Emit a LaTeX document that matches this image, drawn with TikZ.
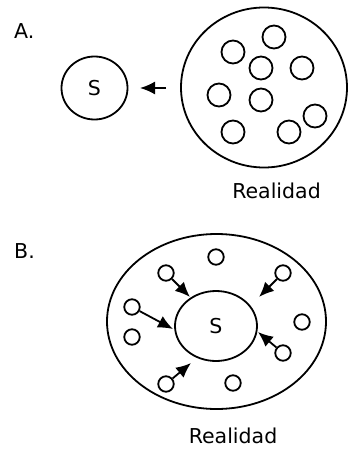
\documentclass[tikz,border=0pt]{standalone}
\usepackage{fontspec}
\setmainfont{DejaVu Sans}
\usepackage{tikz}
\usetikzlibrary{arrows.meta}
\usetikzlibrary{shapes.geometric}
\usetikzlibrary{positioning}

\begin{document}
\begin{tikzpicture}[
            x = 1pt, y = -1pt, % pixel-like units, y downwards
            > = {Latex[length=15pt, width=13pt]}, % arrow head style
            line width = 1.8pt, % line style
            font = \fontsize{20.5}{24}\selectfont
        ]

        \tikzstyle{blob}=[
            draw,
            ellipse,
            inner sep = 0pt
        ]
        \tikzstyle{dot}=[draw, circle, inner sep = 0pt, minimum size = 23pt]
        \tikzstyle{tinydot}=[draw, circle, inner sep = 0pt, minimum size = 15.5pt]

        \useasboundingbox (0,0) rectangle (349,450);

	% part A
        \node[anchor = base west] (LA) at (10,38) {A.};
        \node[blob, minimum width = 66pt, minimum height = 63pt] (SA) at (94.5,88) {S};
        \node[blob, minimum width = 166pt, minimum height = 160pt] (RA) at (264,87.5) {};
        \node[anchor = base] (TA) at (276.5,198) {Realidad};

        \foreach \p [count = \i] in {(274,37), (233,52), (261,68), (302,68), (219,95),
                                     (261,100), (315,116), (233,132), (289,132)}
            \node[dot] (a\i) at \p {};

        \coordinate (AT) at (166,88);
        \coordinate (AH) at (140,88);
        \draw[->] (AT) -- (AH);

        % part B
        \node[anchor = base west] (LB) at (10,258) {B.};
        \node[blob, minimum width = 219pt, minimum height = 175pt] (RB) at (216.5,321.5) {};
        \node[blob, minimum width = 82pt, minimum height = 70pt] (SB) at (216,326) {S};
        \node[anchor = base] (TB) at (233,443) {Realidad};

        \foreach \p [count = \i] in {(216,257), (166,273), (283,273), (132,307), (302,322),
                                     (132,337), (283,353), (166,384), (233,383)}
            \node[tinydot] (b\i) at \p {};

        % arrow tips
        \coordinate (ta) at (190,297);
        \coordinate (tb) at (259,297);
        \coordinate (tc) at (173,329);
        \coordinate (td) at (258,332);
        \coordinate (te) at (191,363);

        \draw[->] (b2) -- (ta);
        \draw[->] (b3) -- (tb);
        \draw[->] (b4) -- (tc);
        \draw[->] (b7) -- (td);
        \draw[->] (b8) -- (te);

  \end{tikzpicture}
\end{document}
